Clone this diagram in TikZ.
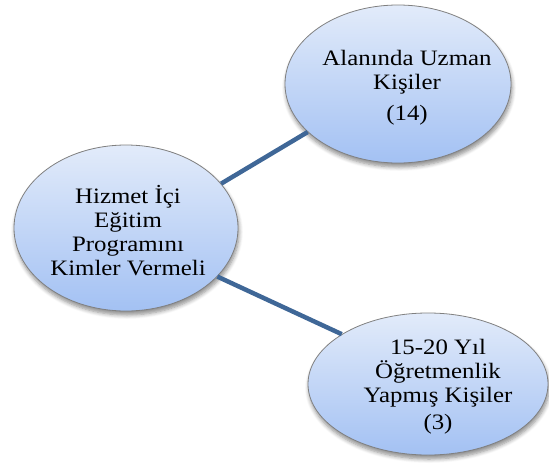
\documentclass[tikz,border=0pt]{standalone}
\usepackage{fontspec}
\setmainfont[FakeStretch=1.13]{Liberation Serif}
\usetikzlibrary{shapes.geometric,shadows.blur}
\definecolor{linkblue}{HTML}{3F6797}
\definecolor{bubtop}{HTML}{E2EBFA}
\definecolor{bubbot}{HTML}{A3C1F3}
\definecolor{bubedge}{HTML}{808080}
\tikzset{
  bubble/.style={ellipse, draw=bubedge, line width=0.8pt,
    top color=bubtop, bottom color=bubbot, inner sep=0pt,
    blur shadow={shadow xshift=1pt, shadow yshift=-4pt,
      shadow blur steps=6, shadow blur radius=4pt, shadow opacity=45}},
  bubtext/.style={align=center, inner sep=0pt,
    font=\fontsize{22}{24}\selectfont},
  link/.style={draw=linkblue, line width=4.5pt}
}
\begin{document}
\begin{tikzpicture}[x=1pt,y=1pt]
  \useasboundingbox (0,0) rectangle (549,-466);
  \node[bubble, minimum width=224pt, minimum height=166pt,
    label={[bubtext, xshift=2pt, yshift=-3pt]center:{Hizmet İçi\\Eğitim\\Programını\\Kimler Vermeli}}]
    (hub) at (126,-228) {};
  \node[bubble, minimum width=226pt, minimum height=158pt,
    label={[bubtext, xshift=9pt, yshift=-4pt]center:{Alanında Uzman\\Kişiler\\[7pt](14)}}]
    (experts) at (398,-84) {};
  \node[bubble, minimum width=240pt, minimum height=142pt,
    label={[bubtext, xshift=10pt, yshift=-3pt]center:{15-20 Yıl\\Öğretmenlik\\Yapmış Kişiler\\[3pt](3)}}]
    (teachers) at (428,-384) {};
  \draw[link] (hub.25) -- (experts.208);
  \draw[link] (hub.-28) -- (teachers.150);
\end{tikzpicture}
\end{document}
